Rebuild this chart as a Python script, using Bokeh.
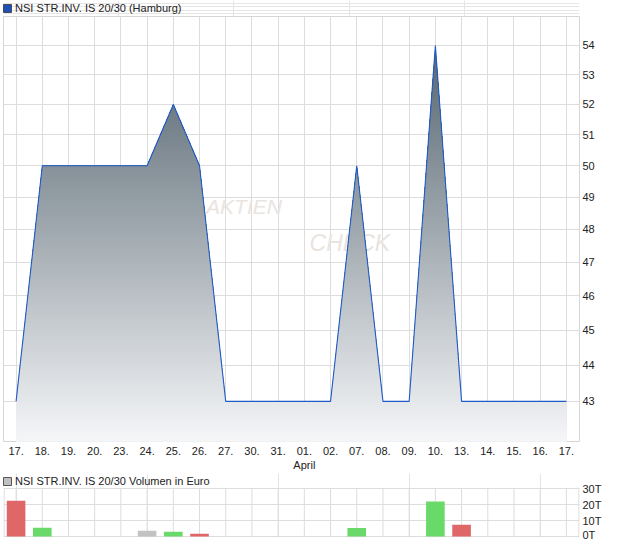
import numpy as np
from bokeh.plotting import figure
from bokeh.models import (Range1d, FixedTicker, Legend, LegendItem,
                          NumeralTickFormatter)
from bokeh.layouts import column
from bokeh.embed import file_html
from bokeh.resources import INLINE
from bokeh.core.properties import value

# ---------------- data ----------------
dates = ["17.", "18.", "19.", "20.", "23.", "24.", "25.", "26.", "27.", "30.", "31.",
         "01.", "02.", "07.", "08.", "09.", "10.", "13.", "14.", "15.", "16.", "17."]
month_label = "April"
month_start = "01."
price = [43, 50, 50, 50, 50, 50, 52, 50, 43, 43, 43,
         43, 43, 50, 43, 43, 54, 43, 43, 43, 43, 43]
volume = [22400, 5500, 0, 0, 0, 3600, 2900, 1700, 0, 0, 0,
          0, 0, 5300, 0, 0, 21800, 7300, 0, 0, 0, 0]
trend = [-1, 1, 0, 0, 0, 0, 1, -1, -1, 0, 0,
         0, 0, 1, -1, 0, 1, -1, 0, 0, 0, 0]
price_ticks = [43, 44, 45, 46, 47, 48, 49, 50, 51, 52, 53, 54]
vol_ticks = [0, 10000, 20000, 30000]
vol_tick_labels = ["0T", "10T", "20T", "30T"]
price_title = "NSI STR.INV. IS 20/30 (Hamburg)"
vol_title = "NSI STR.INV. IS 20/30 Volumen in Euro"

FONT = "Liberation Sans"
GRID = "#dddddd"
BORDER = "#d6d6d6"
TXT = "#222222"
W = 604
FW = 576      # frame width
FH1 = 425     # price frame height
FH2 = 48      # volume plot box height
HEAD2 = 15    # volume title strip height
PAD2 = 1

n = len(dates)
idx = list(range(n))
xr = Range1d(-0.48, n - 1 + 0.5)
ymin, ymax = 41.91, 55.01


def style_axis(ax):
    ax.axis_line_color = None
    ax.major_tick_line_color = None
    ax.minor_tick_line_color = None
    ax.major_tick_out = 0
    ax.major_tick_in = 0
    ax.minor_tick_out = 0
    ax.minor_tick_in = 0
    ax.major_label_standoff = 3
    ax.major_label_text_font = FONT
    ax.major_label_text_font_size = "11px"
    ax.major_label_text_color = TXT


def make_legend(r, label, loc):
    return Legend(items=[LegendItem(label=label, renderers=[r])],
                  location=loc, orientation="horizontal",
                  border_line_color=None, background_fill_alpha=0,
                  padding=0, margin=0, spacing=0,
                  glyph_width=10, glyph_height=10, label_standoff=3,
                  label_height=12, label_text_font=FONT,
                  label_text_font_size="11px", label_text_color=TXT)


# ---------------- price title strip ----------------
t1 = figure(width=W, height=16, output_backend="svg", toolbar_location=None,
            x_axis_location=None, y_axis_location=None, min_border=0,
            x_range=Range1d(0, 1), y_range=Range1d(0, 1))
t1.outline_line_color = None
r1 = t1.quad(left=[5], right=[6], top=[6], bottom=[5], fill_color="#1f4fb8",
             line_color="#333333", line_width=0.8)
t1.add_layout(make_legend(r1, price_title, (-1, 2)))

# ---------------- price chart ----------------
p = figure(frame_width=FW, frame_height=FH1, output_backend="svg",
           toolbar_location=None, x_range=xr, y_range=Range1d(ymin, ymax),
           y_axis_type="log", y_axis_location="right",
           min_border_left=3, min_border_right=25,
           min_border_top=0, min_border_bottom=0)
p.outline_line_color = BORDER

xa = p.xaxis[0]
xa.ticker = FixedTicker(ticks=idx)
labels = {}
for i, d in enumerate(dates):
    labels[i] = d + ("\n" + month_label if d == month_start and i > 0 and dates[i - 1] > d else "")
xa.major_label_overrides = labels
style_axis(xa)

ya = p.yaxis[0]
ya.ticker = FixedTicker(ticks=price_ticks, minor_ticks=[])
ya.formatter = NumeralTickFormatter(format="0")
style_axis(ya)

p.xgrid.grid_line_color = GRID
p.ygrid.grid_line_color = GRID

# watermark (behind the area)
p.text(x=[7.25], y=[48.7], text=["AKTIEN"], text_font=value(FONT),
       text_font_style="italic", text_font_size="21px", text_color="#e9e4df",
       text_baseline="middle", text_align="left")
p.text(x=[11.2], y=[47.6], text=["CHECK"], text_font=value(FONT),
       text_font_style="italic", text_font_size="23px", text_color="#e9e4df",
       text_baseline="middle", text_align="left")

# gradient area: stacked polygons, each clipped at a band top
lv = np.log(np.array(price, dtype=float))
L_bot = np.log(ymin)
L_top = lv.max()
NB = 110
edges = np.linspace(L_bot, L_top, NB + 1)
c_top = np.array([0x4f, 0x5f, 0x6a], dtype=float)
c_bot = np.array([0xf5, 0xf6, 0xf8], dtype=float)
Lg_top = np.log(54.6)


def band_polygon(h):
    px, py = [], []
    for i in range(n):
        if i > 0:
            a, b = lv[i - 1], lv[i]
            if (a - h) * (b - h) < 0:
                t = (h - a) / (b - a)
                px.append(idx[i - 1] + t)
                py.append(h)
        px.append(idx[i])
        py.append(min(lv[i], h))
    return [idx[0]] + px + [idx[-1]], [ymin] + list(np.exp(py)) + [ymin]


bxs, bys, bcols = [], [], []
for k in range(NB, 0, -1):
    h = edges[k]
    mid = 0.5 * (edges[k] + edges[k - 1])
    t = (Lg_top - mid) / (Lg_top - L_bot)
    t = min(max(t, 0.0), 1.0)
    c = c_top + (c_bot - c_top) * t
    bx, by = band_polygon(h)
    bxs.append(bx)
    bys.append(by)
    bcols.append("#%02x%02x%02x" % tuple(int(round(v)) for v in c))
p.patches(xs=bxs, ys=bys, fill_color=bcols, line_color=None)

p.line(idx, price, line_color="#1f5bc8", line_width=1.1)

# ---------------- volume chart (title strip inside the frame) ----------------
vmax = vol_ticks[-1]
upx = vmax / FH2                       # value units per pixel
v = figure(frame_width=FW, frame_height=FH2 + HEAD2 + PAD2, output_backend="svg",
           toolbar_location=None, x_range=xr,
           y_range=Range1d(-upx * PAD2, vmax + upx * HEAD2),
           x_axis_location=None, y_axis_location="right",
           min_border_left=3, min_border_right=25, min_border_top=0,
           min_border_bottom=3)
v.outline_line_color = None
vy = v.yaxis[0]
vy.ticker = FixedTicker(ticks=vol_ticks, minor_ticks=[])
vy.major_label_overrides = dict(zip(vol_ticks, vol_tick_labels))
style_axis(vy)
v.ygrid.grid_line_color = GRID
v.ygrid.bounds = (xr.start, xr.end)
# vertical grid + box sides limited to the plot box
v.segment(x0=idx, y0=[0] * n, x1=idx, y1=[vmax] * n, line_color=GRID, line_width=1)
v.segment(x0=[xr.start + 0.02, xr.end - 0.02], y0=[0, 0],
          x1=[xr.start + 0.02, xr.end - 0.02], y1=[vmax, vmax],
          line_color=BORDER, line_width=1)

cmap = {-1: "#df6767", 1: "#69d969", 0: "#c2c2c2"}
v.vbar(x=idx, top=volume, width=0.71, fill_color=[cmap[t] for t in trend],
       line_color=None)

r2 = v.quad(left=[xr.end + 5], right=[xr.end + 6], top=[vmax], bottom=[0],
            fill_color="#c0c0c0", line_color="#333333", line_width=0.8)
v.add_layout(make_legend(r2, vol_title, (-1, FH2 + HEAD2 + PAD2 - 14)))

layout = column(t1, p, v, spacing=0)
open("out.html", "w").write(file_html(layout, INLINE))
